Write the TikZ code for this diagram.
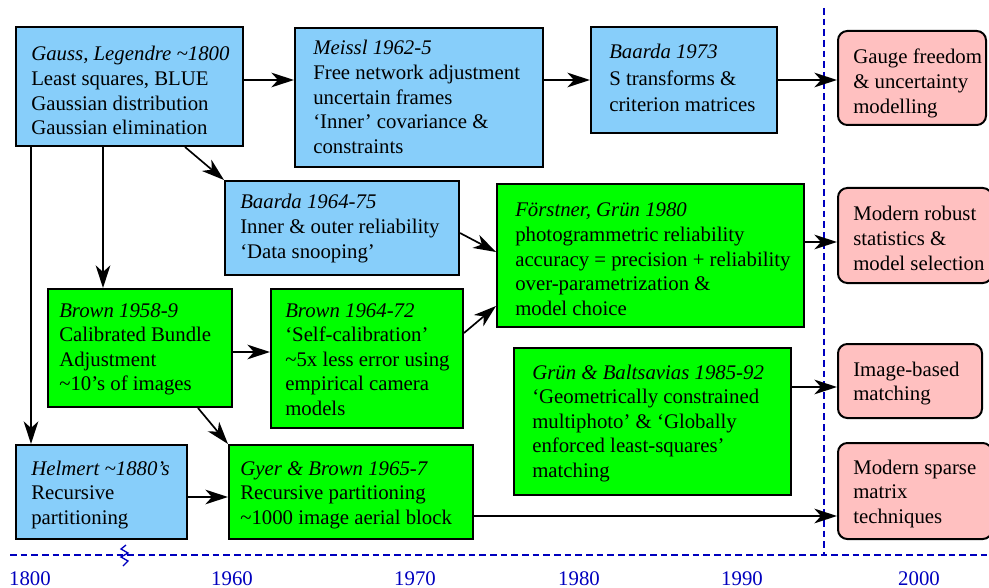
\documentclass[tikz,border=0pt]{standalone}
\usepackage{fontspec}
\setmainfont{Liberation Serif}
\usetikzlibrary{arrows.meta,fit}
\definecolor{boxblue}{RGB}{135,206,250}
\definecolor{boxgreen}{RGB}{0,255,0}
\definecolor{boxpink}{RGB}{255,192,192}
\definecolor{axisblue}{RGB}{0,0,190}
\newcommand{\lines}[1]{\begin{tabular}[t]{@{}l@{}}#1\end{tabular}}
\begin{document}
\begin{tikzpicture}[x=0.75pt,y=-0.75pt,
 box/.style={draw=black, line width=1.5pt, inner sep=0pt},
 bluebox/.style={box, fill=boxblue},
 greenbox/.style={box, fill=boxgreen},
 pinkbox/.style={box, fill=boxpink, rounded corners=7pt},
 txt/.style={anchor=base west, inner sep=0pt, font=\fontsize{15.6}{18.4}\selectfont},
 arr/.style={line width=1.25pt, -{Stealth[length=17pt,width=11pt,inset=5pt]}},
 axis/.style={axisblue, line width=1.5pt, dash pattern=on 5pt off 3pt},
 yr/.style={text=axisblue, anchor=base, inner sep=0pt, font=\fontsize{15.6}{18}\selectfont}]
\useasboundingbox (0,0) rectangle (989,588);
\clip (0,0) rectangle (989,588);

% axes
\draw[axis] (10,555) -- (989,555);
\draw[axis] (824,8) -- (824,555);
\draw[axisblue, line width=1pt] (126,545) -- (121,549) -- (128,553) -- (121,557) -- (128,561) -- (123,566);
\node[yr] (y1800) at (30,585) {1800};
\node[yr] (y1960) at (232,585) {1960};
\node[yr] (y1970) at (415,585) {1970};
\node[yr] (y1980) at (579,585) {1980};
\node[yr] (y1990) at (742,585) {1990};
\node[yr] (y2000) at (919,585) {2000};

% boxes
\node[bluebox, fit={(16,27) (243,146)}] (gauss) {};
\node[txt] (gaussT) at (31,61) {\lines{\textit{Gauss, Legendre \textasciitilde1800}\\ Least squares, BLUE\\ Gaussian distribution\\ Gaussian elimination}};

\node[bluebox, fit={(295,28) (543,167)}] (meissl) {};
\node[txt] (meisslT) at (313,55) {\lines{\textit{Meissl 1962-5}\\ Free network adjustment\\ uncertain frames\\ ‘Inner’ covariance \&\\ constraints}};

\node[bluebox, fit={(591,27) (777,133)}] (baardaA) {};
\node[txt, font=\fontsize{15.6}{19.6}\selectfont] (baardaAT) at (609,59) {\lines{\textit{Baarda 1973}\\ S transforms \&\\ criterion matrices}};

\node[bluebox, fit={(225,181) (459,275)}] (baardaB) {};
\node[txt] (baardaBT) at (240,209) {\lines{\textit{Baarda 1964-75}\\ Inner \& outer reliability\\ ‘Data snooping’}};

\node[greenbox, fit={(497,184) (804,327)}] (forst) {};
\node[txt] (forstT) at (515,217) {\lines{\textit{Förstner, Grün 1980}\\ photogrammetric reliability\\ accuracy = precision + reliability\\ over-parametrization \&\\ model choice}};

\node[greenbox, fit={(514,348) (791,495)}] (grun) {};
\node[txt] (grunT) at (532,379) {\lines{\textit{Grün \& Baltsavias 1985-92}\\ ‘Geometrically constrained\\ multiphoto’ \& ‘Globally\\ enforced least-squares’\\ matching}};

\node[greenbox, fit={(48,289) (232,407)}] (brownA) {};
\node[txt] (brownAT) at (59,317) {\lines{\textit{Brown 1958-9}\\ Calibrated Bundle\\ Adjustment\\ \textasciitilde10’s of images}};

\node[greenbox, fit={(271,289) (463,428)}] (brownB) {};
\node[txt] (brownBT) at (285,317) {\lines{\textit{Brown 1964-72}\\ ‘Self-calibration’\\ \textasciitilde5x less error using\\ empirical camera\\ models}};

\node[bluebox, fit={(16,445) (187,539)}] (helmert) {};
\node[txt] (helmertT) at (31,475) {\lines{\textit{Helmert \textasciitilde1880’s}\\ Recursive\\ partitioning}};

\node[greenbox, fit={(229,445) (473,539)}] (gyer) {};
\node[txt] (gyerT) at (240,475) {\lines{\textit{Gyer \& Brown 1965-7}\\ Recursive partitioning\\ \textasciitilde1000 image aerial block}};

\node[pinkbox, fit={(838,31) (986,125)}] (gauge) {};
\node[txt] (gaugeT) at (853,64) {\lines{Gauge freedom\\ \& uncertainty\\ modelling}};

\node[pinkbox, fit={(838,188) (992,283)}] (robust) {};
\node[txt] (robustT) at (853,221) {\lines{Modern robust\\ statistics \&\\ model selection}};

\node[pinkbox, fit={(838,344) (982,418)}] (imgm) {};
\node[txt] (imgmT) at (853,376) {\lines{Image-based\\ matching}};

\node[pinkbox, fit={(838,443) (992,539)}] (sparse) {};
\node[txt] (sparseT) at (853,474) {\lines{Modern sparse\\ matrix\\ techniques}};

% connectors
\draw[arr] (gauss.east |- 0,80) -- (meissl.west |- 0,80);
\draw[arr] (meissl.east |- 0,80) -- (baardaA.west |- 0,80);
\draw[arr] (baardaA.east |- 0,80) -- (gauge.west |- 0,80);
\draw[arr] (gauss.south -| 185,0) -- (baardaB.north west);
\draw[arr] (gauss.south -| 103,0) -- (brownA.north -| 103,0);
\draw[arr] (gauss.south -| 31,0) -- (helmert.north -| 31,0);
\draw[arr] (baardaB.east |- 0,233) -- (forst.west |- 0,252);
\draw[arr] (brownB.east |- 0,333) -- (forst.west |- 0,306);
\draw[arr] (brownA.east |- 0,352) -- (brownB.west |- 0,352);
\draw[arr] (brownA.south -| 198,0) -- (gyer.north west);
\draw[arr] (helmert.east |- 0,497) -- (gyer.west |- 0,497);
\draw[arr] (gyer.east |- 0,516) -- (sparse.west |- 0,516);
\draw[arr] (forst.east |- 0,242) -- (robust.west |- 0,242);
\draw[arr] (grun.east |- 0,387) -- (imgm.west |- 0,387);
\end{tikzpicture}
\end{document}
